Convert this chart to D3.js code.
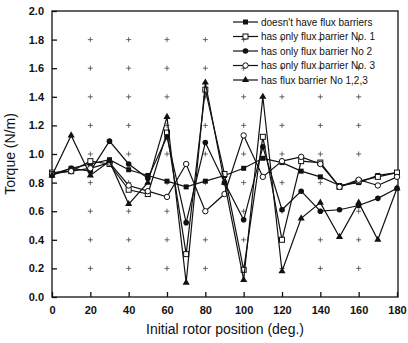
<!DOCTYPE html>
<html>
<meta charset="utf-8">
<head>
  <title>Torque vs rotor position</title>
</head>
<style>
body { margin: 0; background: #fff; }
text { font-family: "Liberation Sans", Arial, sans-serif; fill: #111; }
.tick text { font-size: 11px; font-weight: bold; }
.axis path, .axis line { stroke: #111; stroke-width: 1.3px; }
.series { fill: none; stroke: #111; stroke-width: 1.2px; }
.grid path { stroke: #444; stroke-width: 0.8px; fill: none; }
.legend text { font-size: 10px; }
</style>
<body>
  <svg width="408" height="343"></svg>
  <script src="https://cdnjs.cloudflare.com/ajax/libs/d3/7.8.5/d3.min.js"></script>
  <script>
// data
var positions = [0, 10, 20, 30, 40, 50, 60, 70, 80, 90, 100, 110, 120, 130, 140, 150, 160, 170, 180]
var noBarriers = [0.85, 0.90, 0.93, 0.96, 0.89, 0.85, 0.81, 0.77, 0.81, 0.85, 0.90, 0.97, 0.94, 0.88, 0.84, 0.78, 0.80, 0.85, 0.87]
var barrier1 = [0.87, 0.88, 0.95, 0.93, 0.75, 0.72, 1.15, 0.30, 1.45, 0.86, 0.19, 1.12, 0.40, 0.95, 0.94, 0.77, 0.81, 0.84, 0.87]
var barrier2 = [0.86, 0.90, 0.88, 1.09, 0.93, 0.83, 1.12, 0.52, 1.08, 0.80, 0.54, 1.05, 0.61, 0.74, 0.60, 0.61, 0.64, 0.69, 0.76]
var barrier3 = [0.86, 0.88, 0.90, 0.94, 0.78, 0.74, 0.70, 0.93, 0.60, 0.72, 1.13, 0.84, 0.95, 0.98, 0.93, 0.77, 0.82, 0.78, 0.84]
var barrier123 = [0.85, 1.13, 0.85, 0.95, 0.65, 0.80, 1.26, 0.10, 1.50, 0.80, 0.12, 1.40, 0.18, 0.55, 0.66, 0.42, 0.66, 0.40, 0.76]
var seriesNames = ["doesn't have flux barriers", "has only flux barrier No. 1", "has only flux barrier No  2", "has only flux barrier No. 3", "has flux barrier No  1,2,3"]
var xTicks = [0, 20, 40, 60, 80, 100, 120, 140, 160, 180]
var yTicks = [0.0, 0.2, 0.4, 0.6, 0.8, 1.0, 1.2, 1.4, 1.6, 1.8, 2.0]

var allSeries = [noBarriers, barrier1, barrier2, barrier3, barrier123]
var markerKinds = ['fsquare', 'osquare', 'fcircle', 'ocircle', 'ftri']

// plot box (window.top is reserved, so prefixed names)
var pLeft = 52, pRight = 398, pTop = 11, pBottom = 297

var x = d3.scaleLinear().domain([0, 180]).range([pLeft, pRight - 1])
var y = d3.scaleLinear().domain([0, 2]).range([pBottom, pTop])

var svg = d3.select('svg')

// plus marks on the grid
var grid = svg.append('g').attr('class', 'grid')
xTicks.slice(1, -1).forEach(function(tx) {
  yTicks.slice(1, -1).forEach(function(ty) {
    var px = x(tx), py = y(ty)
    grid.append('path').attr('d', 'M' + (px - 2.5) + ',' + py + 'H' + (px + 2.5) + 'M' + px + ',' + (py - 2.5) + 'V' + (py + 2.5))
  })
})

// frame
svg.append('rect')
  .attr('x', pLeft).attr('y', pTop)
  .attr('width', pRight - pLeft).attr('height', pBottom - pTop)
  .attr('fill', 'none').attr('stroke', '#111').attr('stroke-width', 1.3)

svg.append('g').attr('class', 'axis')
  .attr('transform', 'translate(0,' + pBottom + ')')
  .call(d3.axisBottom(x).tickValues(xTicks).tickSize(-5).tickPadding(9).tickFormat(d3.format('d')))
  .call(function(g) { g.select('.domain').remove() })

svg.append('g').attr('class', 'axis')
  .attr('transform', 'translate(' + pLeft + ',0)')
  .call(d3.axisLeft(y).tickValues(yTicks).tickSize(-5).tickPadding(8).tickFormat(d3.format('.1f')))
  .call(function(g) { g.select('.domain').remove() })

// axis titles
svg.append('text')
  .attr('x', (pLeft + pRight) / 2).attr('y', 334)
  .attr('text-anchor', 'middle').style('font-size', '14px')
  .text('Initial rotor position (deg.)')

svg.append('text')
  .attr('transform', 'translate(15,' + ((pTop + pBottom) / 2) + ') rotate(-90)')
  .attr('text-anchor', 'middle').style('font-size', '14px')
  .text('Torque (N/m)')

function drawMarker(g, kind, px, py) {
  if (kind == 'fsquare') {
    g.append('rect').attr('x', px - 2.5).attr('y', py - 2.5).attr('width', 5).attr('height', 5).attr('fill', '#111')
  } else if (kind == 'osquare') {
    g.append('rect').attr('x', px - 2.5).attr('y', py - 2.5).attr('width', 5).attr('height', 5)
      .attr('fill', '#fff').attr('stroke', '#111').attr('stroke-width', 1)
  } else if (kind == 'fcircle') {
    g.append('circle').attr('cx', px).attr('cy', py).attr('r', 2.8).attr('fill', '#111')
  } else if (kind == 'ocircle') {
    g.append('circle').attr('cx', px).attr('cy', py).attr('r', 2.7)
      .attr('fill', '#fff').attr('stroke', '#111').attr('stroke-width', 1)
  } else {
    g.append('path').attr('d', d3.symbol(d3.symbolTriangle, 22)()).attr('transform', 'translate(' + px + ',' + py + ')').attr('fill', '#111')
  }
}

var line = d3.line()
  .x(function(d, i) { return x(positions[i]) })
  .y(function(d) { return y(d) })

allSeries.forEach(function(vals, k) {
  var g = svg.append('g')
  g.append('path').attr('class', 'series').attr('d', line(vals))
  vals.forEach(function(v, i) {
    drawMarker(g, markerKinds[k], x(positions[i]), y(v))
  })
})

// legend
var legend = svg.append('g').attr('class', 'legend')
seriesNames.forEach(function(name, k) {
  var ly = 22 + k * 14.5
  legend.append('line').attr('x1', 233).attr('x2', 258).attr('y1', ly).attr('y2', ly)
    .attr('stroke', '#111').attr('stroke-width', 1.2)
  drawMarker(legend, markerKinds[k], 245.5, ly)
  legend.append('text').attr('x', 261).attr('y', ly + 3.5).text(name)
})
  </script>
</body>
</html>
